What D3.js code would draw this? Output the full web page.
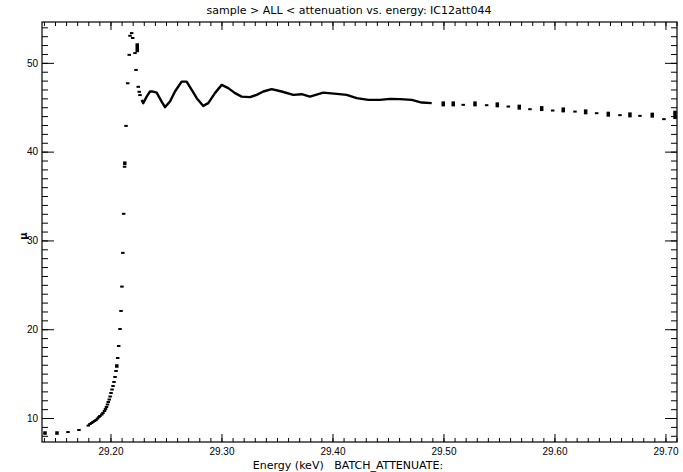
<!DOCTYPE html>
<html lang="en">
<head>
    <meta charset="utf-8">
    <title>attenuation vs. energy</title>
    <script src="https://d3js.org/d3.v7.min.js"></script>
    <style type="text/css">
        body{
            margin: 0;
            background: #fff;
        }
        svg{
            display: block;
        }
        .title, .xlabel{
            font-family: "DejaVu Sans", sans-serif;
            font-size: 11px;
            white-space: pre;
        }
        .tick text{
            font-family: "Liberation Sans", Arial, sans-serif;
            font-size: 10px;
        }
    </style>
</head>
<body>
    <svg id="chart" width="683" height="472"></svg>

    <script type="text/javascript">

        // discrete measured points (keV, mu, half error bar)
        const energy = [29.1410, 29.1518, 29.1617, 29.1716,
            29.1800, 29.1815, 29.1829, 29.1842, 29.1856, 29.1869, 29.1883, 29.1896, 29.1905,
            29.1921, 29.1932, 29.1946, 29.1955, 29.1964, 29.1973, 29.1980, 29.1989, 29.1997,
            29.2005, 29.2014, 29.2023, 29.2032, 29.2041, 29.2050, 29.2057, 29.2065, 29.2074,
            29.2086, 29.2095, 29.2103, 29.2111, 29.2119, 29.2127, 29.2129, 29.2140, 29.2155,
            29.2169, 29.2176, 29.2191, 29.2200, 29.2221, 29.2230, 29.2241, 29.2250, 29.2259, 29.2266,
            29.4998, 29.5088, 29.5178, 29.5284, 29.5389, 29.5485, 29.5584, 29.5683, 29.5779,
            29.5885, 29.5984, 29.6079, 29.6185, 29.6281, 29.6380, 29.6485, 29.6590, 29.6680,
            29.6770, 29.6881, 29.6986, 29.7086];
        const mu = [8.31, 8.31, 8.42, 8.65,
            9.15, 9.32, 9.44, 9.55, 9.66, 9.77, 9.94, 10.11, 10.23,
            10.39, 10.56, 10.79, 11.01, 11.24, 11.52, 11.80, 12.08, 12.42,
            12.82, 13.21, 13.61, 14.06, 14.62, 15.30, 15.86, 16.76, 18.11,
            20.03, 22.06, 24.8, 28.6, 33.0, 38.3, 38.7, 42.9, 47.7,
            50.9, 53.05, 53.35, 52.8, 51.1, 49.2, 51.7, 47.3, 46.74, 46.37,
            45.38, 45.38, 45.27, 45.38, 45.23, 45.27, 45.08, 45.01, 44.78,
            44.85, 44.63, 44.70, 44.51, 44.48, 44.33, 44.22, 44.11, 44.14,
            44.03, 44.11, 43.66, 44.14];
        const muErr = [0.2, 0.2, 0, 0,
            0, 0, 0, 0, 0, 0, 0, 0, 0,
            0, 0, 0, 0, 0, 0, 0, 0, 0,
            0, 0, 0, 0, 0, 0, 0.2, 0, 0,
            0, 0, 0, 0, 0, 0, 0.2, 0, 0,
            0, 0, 0, 0, 0, 0, 0.5, 0, 0, 0,
            0.28, 0.28, 0, 0.28, 0, 0.28, 0, 0.28, 0,
            0.28, 0, 0.28, 0, 0.28, 0, 0.28, 0, 0.28,
            0, 0.28, 0, 0.47];

        // dense scan through the oscillations, drawn as a trace
        const traceEnergy = [29.2281, 29.2295, 29.2326, 29.2356, 29.2374, 29.2416, 29.2461, 29.2491,
            29.2536, 29.2581, 29.2641, 29.2686, 29.2732, 29.2777, 29.2836, 29.2881, 29.2941,
            29.3002, 29.3061, 29.3122, 29.3182, 29.3257, 29.3317, 29.3377, 29.3452, 29.3542,
            29.3647, 29.3723, 29.3797, 29.3917, 29.4038, 29.4128, 29.4218, 29.4323, 29.4428,
            29.4518, 29.4608, 29.4714, 29.4804, 29.4894];
        const traceMu = [45.83, 45.46, 46.20, 46.77, 46.79, 46.65, 45.64, 45.01,
            45.64, 46.77, 47.89, 47.89, 46.96, 46.02, 45.15, 45.46, 46.59,
            47.52, 47.15, 46.59, 46.20, 46.14, 46.39, 46.77, 47.04, 46.77,
            46.39, 46.47, 46.20, 46.65, 46.51, 46.39, 46.02, 45.83, 45.83,
            45.94, 45.91, 45.83, 45.53, 45.46];

        const xMajor = [29.20, 29.30, 29.40, 29.50, 29.60, 29.70];
        const yMajor = [10, 20, 30, 40, 50];

        const titleText = "sample > ALL < attenuation vs. energy: IC12att044";
        const xTitle = "Energy (keV)   BATCH_ATTENUATE:";

        const svg = d3.select("#chart");
        const margin = {left: 42, right: 6, top: 22, bottom: 30};
        const width = 683 - margin.left - margin.right;
        const height = 472 - margin.top - margin.bottom;

        const x = d3.scaleLinear()
            .domain([29.1383, 29.7104])
            .range([0, width]);

        const y = d3.scaleLinear()
            .domain([7.3, 54.6])
            .range([height, 0]);

        const g = svg.append("g")
            .attr("transform", `translate(${margin.left},${margin.top})`);

        const xMinor = d3.range(2914, 2972).map(d => d / 100);
        const yMinor = d3.range(8, 55);

        // minor ticks on all four sides, pointing inward
        g.append("g").attr("transform", `translate(0,${height})`)
            .call(d3.axisBottom(x).tickValues(xMinor).tickSize(-4).tickFormat(""));
        g.append("g")
            .call(d3.axisTop(x).tickValues(xMinor).tickSize(-4).tickFormat(""));
        g.append("g")
            .call(d3.axisLeft(y).tickValues(yMinor).tickSize(-6).tickFormat(""));
        g.append("g").attr("transform", `translate(${width},0)`)
            .call(d3.axisRight(y).tickValues(yMinor).tickSize(-6).tickFormat(""));

        // major ticks
        g.append("g").attr("transform", `translate(0,${height})`)
            .call(d3.axisBottom(x).tickValues(xMajor).tickSize(-8).tickPadding(6).tickFormat(d3.format(".2f")));
        g.append("g")
            .call(d3.axisTop(x).tickValues(xMajor).tickSize(-8).tickFormat(""));
        g.append("g")
            .call(d3.axisLeft(y).tickValues(yMajor).tickSize(-12).tickPadding(4).tickFormat(d3.format("d")));
        g.append("g").attr("transform", `translate(${width},0)`)
            .call(d3.axisRight(y).tickValues(yMajor).tickSize(-12).tickFormat(""));

        g.selectAll(".domain").remove();
        g.selectAll(".tick line").attr("stroke", "#000");
        g.selectAll(".tick text").attr("fill", "#000");

        g.append("rect")
            .attr("width", width)
            .attr("height", height)
            .attr("fill", "none")
            .attr("stroke", "#000")
            .attr("stroke-width", 1.2);

        const trace = traceEnergy.map((e, i) => [e, traceMu[i]]);
        g.append("path")
            .datum(trace)
            .attr("fill", "none")
            .attr("stroke", "#000")
            .attr("stroke-width", 2.4)
            .attr("stroke-linejoin", "round")
            .attr("d", d3.line().x(d => x(d[0])).y(d => y(d[1])));

        const points = energy.map((e, i) => ({e: e, mu: mu[i], err: muErr[i]}));
        g.selectAll("rect.pt")
            .data(points)
            .enter()
            .append("rect")
            .attr("class", "pt")
            .attr("x", d => x(d.e) - 1.75)
            .attr("width", 3.5)
            .attr("y", d => Math.min(y(d.mu + d.err), y(d.mu) - 1))
            .attr("height", d => Math.max(2, y(d.mu - d.err) - y(d.mu + d.err)))
            .attr("fill", "#000");

        svg.append("text")
            .attr("class", "title")
            .attr("x", 349)
            .attr("y", 14)
            .attr("text-anchor", "middle")
            .text(titleText);

        svg.append("text")
            .attr("class", "xlabel")
            .attr("x", 348)
            .attr("y", 469)
            .attr("text-anchor", "middle")
            .text(xTitle);

        svg.append("text")
            .attr("class", "xlabel")
            .attr("transform", `translate(27,${y(30.5) + margin.top}) rotate(-90)`)
            .attr("text-anchor", "middle")
            .style("font-size", "10px")
            .style("font-weight", "bold")
            .text("μ");
    </script>
</body>
</html>
